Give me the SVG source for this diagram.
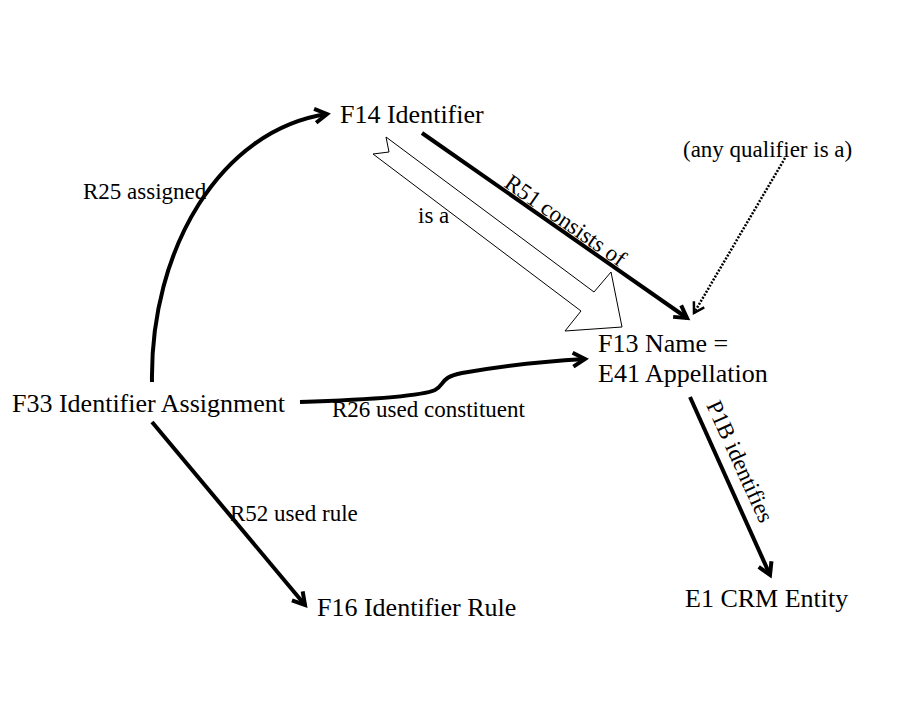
<svg xmlns="http://www.w3.org/2000/svg" width="901" height="706" viewBox="0 0 901 706">
<style>
  .node { font-family: "Liberation Serif", "Times New Roman", serif; font-size: 26px; fill: #000; }
  .lbl { font-family: "Liberation Serif", "Times New Roman", serif; font-size: 23px; fill: #000; }
  .edge { fill: none; stroke: #000; stroke-width: 4; }
  .dot { fill: none; stroke: #000; stroke-width: 2.5; stroke-dasharray: 2 1.5; }
  .block { fill: #fff; stroke: #000; stroke-width: 1; stroke-linejoin: miter; }
</style>
<defs>
  <marker id="ah" viewBox="-16 -10 20 20" markerWidth="20" markerHeight="20" refX="0" refY="0" orient="auto" markerUnits="userSpaceOnUse" overflow="visible">
    <path d="M-12,-7 L0,0 L-12,7" fill="none" stroke="#000" stroke-width="4"/>
  </marker>
  <marker id="ahs" viewBox="-16 -10 20 20" markerWidth="20" markerHeight="20" refX="0" refY="0" orient="auto" markerUnits="userSpaceOnUse" overflow="visible">
    <path d="M-10,-6 L0,0 L-10,6" fill="none" stroke="#000" stroke-width="2.5"/>
  </marker>
</defs>
<rect width="901" height="706" fill="#fff"/>

<g id="connectors">
  <g id="e-isa">
    <polygon class="block" points="386,137 389,152 373,154 581,311 565,331 622,327 611,272 594,292"/>
    <text class="lbl" x="418" y="223">is a</text>
  </g>
  <g id="e-r25">
    <path class="edge" d="M152,382 C150,250 220,130 327,114" marker-end="url(#ah)"/>
    <text class="lbl" x="83" y="199">R25 assigned</text>
  </g>
  <g id="e-r51">
    <path class="edge" d="M422,133 L687,318" marker-end="url(#ah)"/>
    <text class="lbl" x="503" y="186" transform="rotate(35 503 186)">R51 consists of</text>
  </g>
  <g id="e-qual">
    <path class="dot" d="M785,158 L694,313" marker-end="url(#ahs)"/>
  </g>
  <g id="e-r26">
    <path class="edge" d="M300,402 C360,400 420,397 435,390 C445,385 440,377 462,373 C500,366 550,361 585,359" marker-end="url(#ah)"/>
    <text class="lbl" x="332" y="417">R26 used constituent</text>
  </g>
  <g id="e-r52">
    <path class="edge" d="M152,422 L305,605" marker-end="url(#ah)"/>
    <text class="lbl" x="230" y="521">R52 used rule</text>
  </g>
  <g id="e-p1b">
    <path class="edge" d="M690,397 L770,575" marker-end="url(#ah)"/>
    <text class="lbl" x="706" y="405" transform="rotate(65.6 706 405)">P1B identifies</text>
  </g>
</g>

<g id="n-f14"><text class="node" x="340" y="123">F14 Identifier</text></g>
<g id="n-f33"><text class="node" x="12" y="412">F33 Identifier Assignment</text></g>
<g id="n-f16"><text class="node" x="317" y="616">F16 Identifier Rule</text></g>
<g id="n-f13">
  <text class="node" x="598" y="352">F13 Name =</text>
  <text class="node" x="598" y="382">E41 Appellation</text>
</g>
<g id="n-e1"><text class="node" x="685" y="607">E1 CRM Entity</text></g>
<g id="n-note"><text class="lbl" x="683" y="157">(any qualifier is a)</text></g>
</svg>
